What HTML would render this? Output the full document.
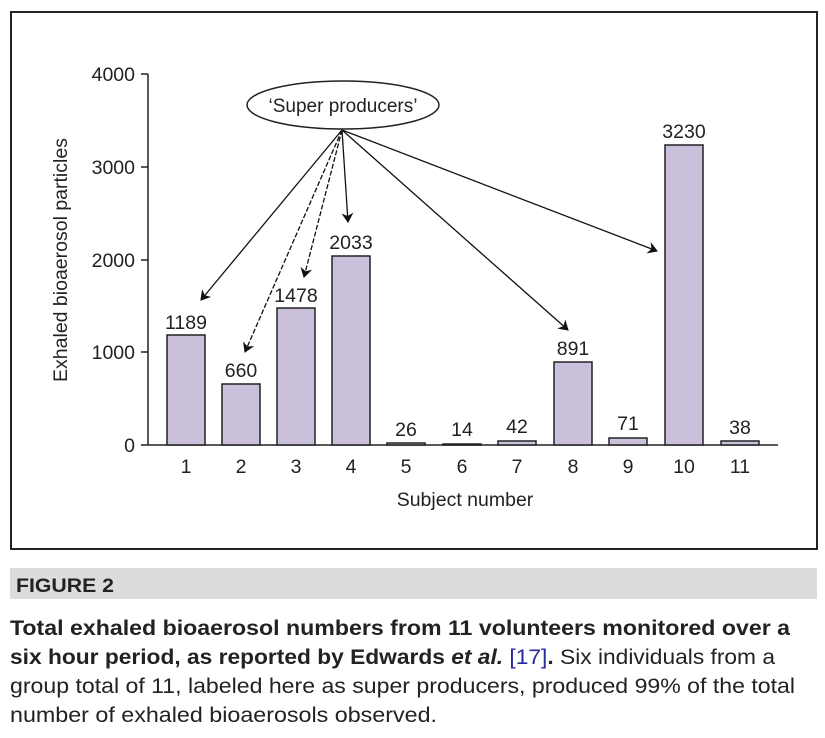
<!DOCTYPE html>
<html><head><meta charset="utf-8"><style>
body{margin:0;background:#fff;}
svg{display:block;}
</style></head><body>
<svg width="825" height="738" xmlns="http://www.w3.org/2000/svg" font-family="Liberation Sans, sans-serif">
<defs><marker id="a" markerWidth="10" markerHeight="12" refX="9" refY="6" orient="auto" markerUnits="userSpaceOnUse"><path d="M0,0 L10,6 L0,12 L3,6 Z" fill="#111"/></marker></defs>
<rect x="11" y="12" width="806" height="537" fill="#fff" stroke="#222" stroke-width="2"/>
<g stroke="#222" stroke-width="1.5">
<line x1="148" y1="74" x2="148" y2="445"/>
<line x1="148" y1="445" x2="778" y2="445"/>
<line x1="141" y1="74" x2="148" y2="74"/><line x1="141" y1="167" x2="148" y2="167"/>
<line x1="141" y1="260" x2="148" y2="260"/><line x1="141" y1="352" x2="148" y2="352"/><line x1="141" y1="445" x2="148" y2="445"/>
</g>
<g font-size="19.5" fill="#222" text-anchor="end">
<text x="135" y="81">4000</text><text x="135" y="174">3000</text><text x="135" y="267">2000</text><text x="135" y="359">1000</text><text x="135" y="452">0</text>
</g>
<text transform="translate(67,260) rotate(-90)" font-size="19.5" fill="#222" text-anchor="middle">Exhaled bioaerosol particles</text>
<g fill="#cbc0dc" stroke="#222" stroke-width="1.5">
<rect x="167" y="335" width="38" height="110"/>
<rect x="222" y="384" width="38" height="61"/>
<rect x="277" y="308" width="38" height="137"/>
<rect x="332" y="256" width="38" height="189"/>
<rect x="387" y="443" width="38" height="2"/>
<rect x="443" y="444" width="38" height="1"/>
<rect x="498" y="441" width="38" height="4"/>
<rect x="554" y="362" width="38" height="83"/>
<rect x="609" y="438" width="38" height="7"/>
<rect x="665" y="145" width="38" height="300"/>
<rect x="721" y="441" width="38" height="4"/>
</g>
<g font-size="19.5" fill="#222" text-anchor="middle">
<text x="186" y="329">1189</text><text x="241" y="377">660</text><text x="296" y="302">1478</text><text x="351" y="249">2033</text>
<text x="406" y="436">26</text><text x="462" y="436">14</text><text x="517" y="433">42</text><text x="573" y="355">891</text>
<text x="628" y="430">71</text><text x="684" y="138">3230</text><text x="740" y="434">38</text>
<text x="186" y="473">1</text><text x="241" y="473">2</text><text x="296" y="473">3</text><text x="351" y="473">4</text><text x="406" y="473">5</text><text x="462" y="473">6</text><text x="517" y="473">7</text><text x="573" y="473">8</text><text x="628" y="473">9</text><text x="684" y="473">10</text><text x="740" y="473">11</text>
<text x="465" y="506">Subject number</text>
</g>
<ellipse cx="343" cy="105" rx="96" ry="24" fill="#fff" stroke="#222" stroke-width="1.5"/>
<text x="343" y="112" font-size="19" fill="#222" text-anchor="middle">‘Super producers’</text>
<g stroke="#111" stroke-width="1.3" marker-end="url(#a)">
<line x1="342" y1="130" x2="201" y2="300"/>
<line x1="342" y1="130" x2="245" y2="352" stroke-dasharray="5,2"/>
<line x1="342" y1="130" x2="304" y2="277" stroke-dasharray="5,2"/>
<line x1="342" y1="130" x2="348" y2="222"/>
<line x1="342" y1="130" x2="568" y2="330"/>
<line x1="342" y1="130" x2="657" y2="251"/>
</g>
<rect x="10" y="568" width="807" height="31" fill="#dcdcdc"/>
<text x="16" y="592" font-size="19" font-weight="bold" fill="#222" textLength="98" lengthAdjust="spacingAndGlyphs">FIGURE 2</text>
<text x="10" y="635" font-size="21" font-weight="bold" fill="#222" textLength="780" lengthAdjust="spacingAndGlyphs">Total exhaled bioaerosol numbers from 11 volunteers monitored over a</text>
<text x="10" y="664" font-size="21" fill="#222" textLength="765" lengthAdjust="spacingAndGlyphs"><tspan font-weight="bold">six hour period, as reported by Edwards <tspan font-style="italic">et al.</tspan> </tspan><tspan fill="#2a2aa0">[17]</tspan><tspan font-weight="bold">.</tspan> Six individuals from a</text>
<text x="10" y="693" font-size="21" fill="#222" textLength="785" lengthAdjust="spacingAndGlyphs">group total of 11, labeled here as super producers, produced 99% of the total</text>
<text x="10" y="722" font-size="21" fill="#222" textLength="427" lengthAdjust="spacingAndGlyphs">number of exhaled bioaerosols observed.</text>
</svg>
</body></html>
